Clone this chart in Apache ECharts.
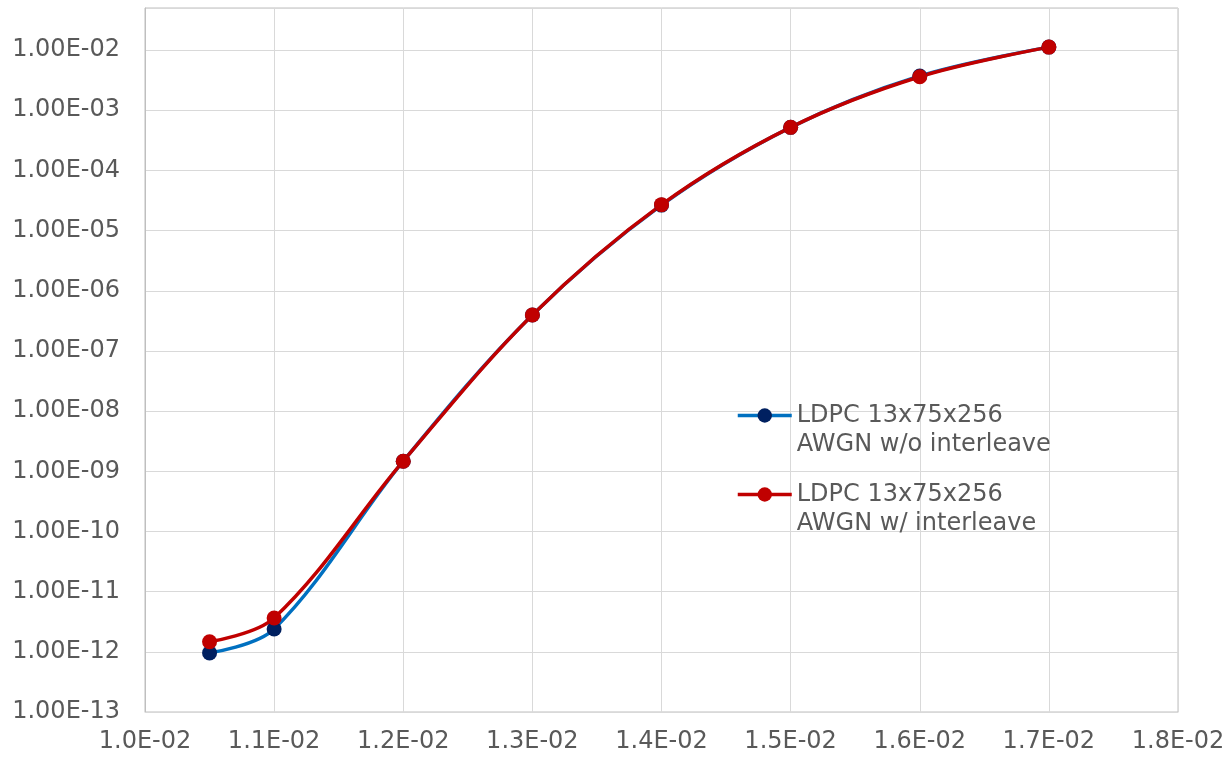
<!DOCTYPE html>
<html>
<head>
<meta charset="utf-8">
<script src="https://cdn.jsdelivr.net/npm/echarts@6/dist/echarts.min.js"></script>
<style>
html,body{margin:0;padding:0;background:#fff;}
#chart{width:1229px;height:757px;}
</style>
</head>
<body>
<div id="chart"></div>
<script>
// ---- data ----
const xValues = [0.0105, 0.011, 0.012, 0.013, 0.014, 0.015, 0.016, 0.017];
const seriesNames = ['LDPC 13x75x256\nAWGN w/o interleave', 'LDPC 13x75x256\nAWGN w/ interleave'];
const berNoInterleave = [0.96e-12, 2.4e-12, 1.47e-9, 3.95e-7, 2.65e-5, 5.2e-4, 3.7e-3, 1.12e-2];
const berInterleave   = [1.47e-12, 3.65e-12, 1.47e-9, 3.95e-7, 2.7e-5, 5.2e-4, 3.6e-3, 1.12e-2];
const xMin = 0.010, xMax = 0.018, xStep = 0.001;
const yMin = 1e-13, yMax = 0.05;

function sci(v, d) {
  const s = Number(v).toExponential(d);
  const parts = s.split('e');
  const e = parseInt(parts[1], 10);
  const sign = e < 0 ? '-' : '+';
  return parts[0] + 'E' + sign + String(Math.abs(e)).padStart(2, '0');
}

const FONT = 'DejaVu Sans, Verdana, sans-serif';
const TXT = '#595959';

const chart = echarts.init(document.getElementById('chart'), null, {renderer: 'canvas'});
const mk = (arr) => xValues.map((x, i) => [x, arr[i]]);

const legendBase = {
  left: 736, padding: 0,
  itemWidth: 54, itemHeight: 18,
  lineStyle: {width: 3.5},
  formatter: name => '\n' + name,
  textStyle: {color: TXT, fontFamily: FONT, fontSize: 24, lineHeight: 29}
};

chart.setOption({
  animation: false,
  backgroundColor: '#ffffff',
  grid: {left: 145, right: 51, top: 8, bottom: 45, show: true, borderColor: '#bfbfbf', borderWidth: 1, backgroundColor: 'transparent'},
  xAxis: {
    type: 'value', min: xMin, max: xMax, interval: xStep,
    axisLine: {show: true, lineStyle: {color: '#d9d9d9', width: 1}},
    axisTick: {show: false},
    splitLine: {show: true, lineStyle: {color: '#d9d9d9', width: 1}},
    axisLabel: {color: TXT, fontFamily: FONT, fontSize: 24, margin: 18, formatter: v => sci(v, 1)}
  },
  yAxis: {
    type: 'log', logBase: 10, min: yMin, max: yMax, interval: 1,
    axisLine: {show: true, lineStyle: {color: '#bfbfbf', width: 1}},
    axisTick: {show: false},
    minorTick: {show: false},
    splitLine: {show: true, lineStyle: {color: '#d9d9d9', width: 1}},
    axisLabel: {color: TXT, fontFamily: FONT, fontSize: 24, margin: 25, showMaxLabel: false, formatter: v => sci(v, 2)}
  },
  legend: [
    Object.assign({}, legendBase, {data: [seriesNames[0]], top: 372}),
    Object.assign({}, legendBase, {data: [seriesNames[1]], top: 451})
  ],
  series: [
    {
      name: seriesNames[0], type: 'line', smooth: 0.35,
      data: mk(berNoInterleave),
      symbol: 'circle', symbolSize: 15,
      lineStyle: {color: '#0070C0', width: 3.5},
      itemStyle: {color: '#002060'}
    },
    {
      name: seriesNames[1], type: 'line', smooth: 0.35,
      data: mk(berInterleave),
      symbol: 'circle', symbolSize: 15,
      lineStyle: {color: '#C00000', width: 3.5},
      itemStyle: {color: '#C00000'}
    }
  ]
});
</script>
</body>
</html>
